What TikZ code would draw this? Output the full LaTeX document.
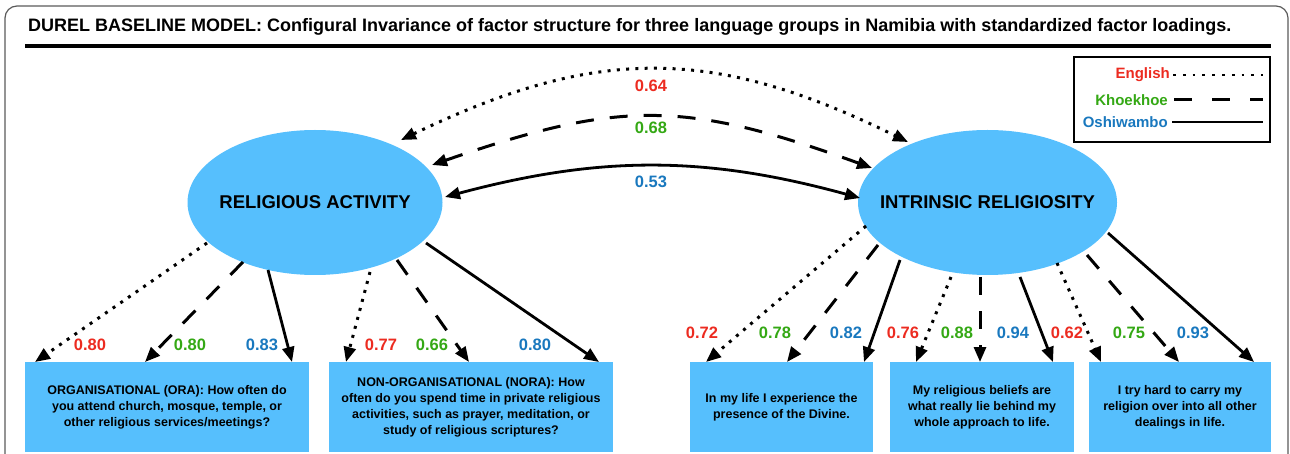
\documentclass[tikz,border=0pt]{standalone}
\usepackage{fontspec}
\setmainfont{Liberation Sans}
\usetikzlibrary{shapes.geometric,arrows.meta}
\definecolor{cred}{RGB}{236,43,32}
\definecolor{cgreen}{RGB}{52,168,20}
\definecolor{cblue}{RGB}{25,120,190}
\definecolor{cfill}{RGB}{86,191,253}
\definecolor{cframe}{RGB}{90,90,90}
\tikzset{
  tip/.style={-{Triangle[length=15pt,width=12pt]}},
  twotip/.style={{Triangle[length=15pt,width=12pt]}-{Triangle[length=15pt,width=12pt]}},
  eng/.style={line width=3pt,dash pattern=on 3pt off 6.3pt},
  kho/.style={line width=3pt,dash pattern=on 18pt off 16pt},
  osh/.style={line width=2.8pt},
  factor/.style={ellipse,fill=cfill,inner sep=0pt,minimum width=255pt,minimum height=145pt},
  flabel/.style={font=\fontsize{18.5}{22}\selectfont\bfseries,inner sep=0pt},
  item/.style={rectangle,fill=cfill,inner sep=0pt,minimum height=90pt,align=center,
    font=\fontsize{12.5}{16}\selectfont\bfseries},
  num/.style={font=\fontsize{16.5}{19}\selectfont\bfseries,inner sep=0pt},
  leg/.style={font=\fontsize{15}{18}\selectfont\bfseries,inner sep=0pt,anchor=east},
}
\begin{document}
\begin{tikzpicture}[x=1pt,y=-1pt]
\useasboundingbox (0,0) rectangle (1290,454);
\clip (0,0) rectangle (1290,454);
% frame
\draw[cframe,line width=1.2pt,rounded corners=12pt] (5,6) rectangle (1288,480);
% title
\node[anchor=west,inner sep=0pt,font=\fontsize{18}{21}\selectfont\bfseries] (title) at (28,27)
  {DUREL BASELINE MODEL: Configural Invariance of factor structure for three language groups in Namibia with standardized factor loadings.};
\draw[line width=4pt] (25,46) -- (1271,46);
% legend
\draw[line width=1.5pt] (1074,57) rectangle (1270,142);
\node[leg,text=cred] (lE) at (1170,75) {English};
\node[leg,text=cgreen] (lK) at (1168,100) {Khoekhoe};
\node[leg,text=cblue] (lO) at (1168,122) {Oshiwambo};
\coordinate (lEe) at (1263,75);
\coordinate (lKe) at (1263,100);
\coordinate (lOe) at (1263,122);
\draw[eng,line width=2.8pt,dash pattern=on 2.8pt off 7pt] ([xshift=3pt]lE.east) -- (lEe);
\draw[kho,dash pattern=on 18pt off 20pt] ([xshift=6pt]lK.east) -- (lKe);
\draw[osh] ([xshift=4pt]lO.east) -- (lOe);
% factors
\node[factor] (ra) at (315,202.5) {};
\node[flabel] (raL) at (ra) {RELIGIOUS ACTIVITY};
\node[factor,minimum width=259pt] (ir) at (987.5,202.5) {};
\node[flabel] (irL) at (ir) {INTRINSIC RELIGIOSITY};
% items
\node[item,minimum width=284pt] (ora) at (167,407) {ORGANISATIONAL (ORA): How often do\\you attend church, mosque, temple, or\\other religious services/meetings?};
\node[item,minimum width=284pt] (nora) at (471,407) {NON-ORGANISATIONAL (NORA): How\\often do you spend time in private religious\\activities, such as prayer, meditation, or\\study of religious scriptures?};
\node[item,minimum width=183pt] (i1) at (781.5,407) {In my life I experience the\\presence of the Divine.};
\node[item,minimum width=184pt] (i2) at (982,407) {My religious beliefs are\\what really lie behind my\\whole approach to life.};
\node[item,minimum width=182pt] (i3) at (1180,407) {I try hard to carry my\\religion over into all other\\dealings in life.};
% covariances
\coordinate (cEl) at (401,140); \coordinate (cEr) at (908,142);
\coordinate (cKl) at (432,165); \coordinate (cKr) at (872,168);
\coordinate (cOl) at (445,197); \coordinate (cOr) at (860,198);
\draw[eng,twotip] (cEl) .. controls (596,46) and (713,46) .. (cEr);
\draw[kho,twotip] (cKl) .. controls (620,100) and (684,100) .. (cKr);
\draw[osh,twotip] (cOl) .. controls (600,155.5) and (705,155.5) .. (cOr);
\node[num,text=cred] (n064) at (651,86) {0.64};
\node[num,text=cgreen] (n068) at (651,128) {0.68};
\node[num,text=cblue] (n053) at (651,182) {0.53};
% loadings religious activity
\coordinate (a1) at (207,243); \coordinate (a2) at (243,262); \coordinate (a3) at (268,270);
\coordinate (a4) at (370,272); \coordinate (a5) at (397,260); \coordinate (a6) at (426,243);
\coordinate (t1) at (35,362); \coordinate (t2) at (145,362); \coordinate (t3) at (292,362);
\coordinate (t4) at (346,362); \coordinate (t5) at (469,362); \coordinate (t6) at (599,362);
\draw[eng,tip] (a1) -- (t1);
\draw[kho,tip] (a2) -- (t2);
\draw[osh,tip] (a3) -- (t3);
\draw[eng,tip] (a4) -- (t4);
\draw[kho,tip] (a5) -- (t5);
\draw[osh,tip] (a6) -- (t6);
\node[num,text=cred] at (90,345) {0.80};
\node[num,text=cgreen] at (190,345) {0.80};
\node[num,text=cblue] at (262,345) {0.83};
\node[num,text=cred] at (381,345) {0.77};
\node[num,text=cgreen] at (432,345) {0.66};
\node[num,text=cblue] at (535,345) {0.80};
% loadings intrinsic
\coordinate (b1) at (866,226); \coordinate (b2) at (878,245); \coordinate (b3) at (900,260);
\coordinate (b4) at (951,277); \coordinate (b5) at (980,277); \coordinate (b6) at (1020,277);
\coordinate (b7) at (1057,263); \coordinate (b8) at (1087,255); \coordinate (b9) at (1108,233);
\coordinate (u1) at (706,362); \coordinate (u2) at (787,362); \coordinate (u3) at (864,362);
\coordinate (u4) at (916,362); \coordinate (u5) at (980,362); \coordinate (u6) at (1053,362);
\coordinate (u7) at (1101,362); \coordinate (u8) at (1179,362); \coordinate (u9) at (1254,362);
\draw[eng,tip] (b1) -- (u1);
\draw[kho,tip] (b2) -- (u2);
\draw[osh,tip] (b3) -- (u3);
\draw[eng,tip] (b4) -- (u4);
\draw[kho,tip] (b5) -- (u5);
\draw[osh,tip] (b6) -- (u6);
\draw[eng,tip] (b7) -- (u7);
\draw[kho,tip] (b8) -- (u8);
\draw[osh,tip] (b9) -- (u9);
\node[num,text=cred] at (702,333) {0.72};
\node[num,text=cgreen] at (775,333) {0.78};
\node[num,text=cblue] at (846,333) {0.82};
\node[num,text=cred] at (903,333) {0.76};
\node[num,text=cgreen] at (957,333) {0.88};
\node[num,text=cblue] at (1013,333) {0.94};
\node[num,text=cred] at (1067,333) {0.62};
\node[num,text=cgreen] at (1129,333) {0.75};
\node[num,text=cblue] at (1193,333) {0.93};
\end{tikzpicture}
\end{document}
